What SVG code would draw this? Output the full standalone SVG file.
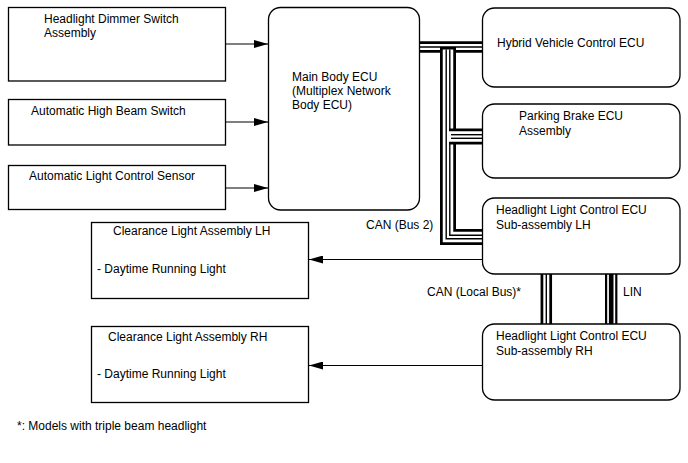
<svg xmlns="http://www.w3.org/2000/svg" width="688" height="463" viewBox="0 0 688 463">
<style>
text{font-family:"Liberation Sans",Arial,sans-serif;font-size:12px;fill:#000}
.box{fill:#fff;stroke:#000;stroke-width:1.3}
.arr{fill:none;stroke:#000;stroke-width:1.2;marker-end:url(#ah)}
.bk{fill:none;stroke:#000;stroke-width:11.5}
.wh{fill:none;stroke:#fff;stroke-width:6}
.ct{fill:none;stroke:#000;stroke-width:1.4}
.bk4{fill:none;stroke:#000;stroke-width:16}
.wh4{fill:none;stroke:#fff;stroke-width:10.5}
.lbk{fill:none;stroke:#000;stroke-width:12.4}
.lwh{fill:none;stroke:#fff;stroke-width:8}
.lct{fill:none;stroke:#000;stroke-width:4.6}
</style>
<defs>
<marker id="ah" markerWidth="14" markerHeight="8" refX="14" refY="4" orient="auto" markerUnits="userSpaceOnUse">
<path d="M0,0 L14,4 L0,8 Z" fill="#000"/>
</marker>
</defs>
<g id="connectors">
<path class="arr" d="M226,44 H268"/>
<path class="arr" d="M226,122 H268"/>
<path class="arr" d="M226,188 H268"/>
<path class="arr" d="M482,259.5 H309"/>
<path class="arr" d="M482,365.5 H309"/>
<!-- CAN bus 2: Main to Hybrid -->
<path class="bk" d="M420,47 H482"/>
<path class="wh" d="M420,47 H482"/>
<path class="ct" d="M420,47 H482"/>
<!-- trunk to LH -->
<path class="bk4" d="M448,47 V237 H482"/>
<path class="wh4" d="M448,49.5 V237 H482"/>
<path class="ct" d="M446.2,49.5 V238.8 H482"/>
<path class="ct" d="M449.8,49.5 V235.2 H482"/>
<!-- branch to Parking -->
<path class="bk4" d="M449,136.5 H482"/>
<path class="wh4" d="M449,136.5 H482"/>
<path class="ct" d="M451,134.7 H482"/>
<path class="ct" d="M451,138.3 H482"/>
<!-- CAN local bus -->
<path class="bk" d="M546.3,274 V324"/>
<path class="wh" d="M546.3,274 V324"/>
<path class="ct" d="M546.3,274 V324"/>
<!-- LIN -->
<path class="lbk" d="M611.2,274 V324"/>
<path class="lwh" d="M611.2,274 V324"/>
<path class="lct" d="M611.2,274 V324"/>
</g>
<g id="dimmer"><rect class="box" x="8.5" y="7.5" width="217" height="73.5"/><text x="44" y="23">Headlight Dimmer Switch</text><text x="44" y="37">Assembly</text></g>
<g id="highbeam"><rect class="box" x="8.5" y="99.5" width="217" height="45.5"/><text x="31" y="115">Automatic High Beam Switch</text></g>
<g id="sensor"><rect class="box" x="8.5" y="165.5" width="217" height="44"/><text x="29" y="180">Automatic Light Control Sensor</text></g>
<g id="mainbody"><rect class="box" x="268.5" y="7.5" width="151" height="202.5" rx="12"/><text x="292" y="81">Main Body ECU</text><text x="292" y="95">(Multiplex Network</text><text x="292" y="109">Body ECU)</text></g>
<g id="hybrid"><rect class="box" x="482.5" y="8" width="197.5" height="79" rx="12"/><text x="497" y="47">Hybrid Vehicle Control ECU</text></g>
<g id="parking"><rect class="box" x="482.5" y="104" width="197.5" height="74" rx="12"/><text x="519" y="120">Parking Brake ECU</text><text x="519" y="135">Assembly</text></g>
<g id="hlcLH"><rect class="box" x="482.5" y="198" width="197.5" height="76" rx="12"/><text x="496" y="214">Headlight Light Control ECU</text><text x="496" y="229">Sub-assembly LH</text></g>
<g id="hlcRH"><rect class="box" x="482.5" y="324" width="197.5" height="76" rx="12"/><text x="496" y="340">Headlight Light Control ECU</text><text x="496" y="355">Sub-assembly RH</text></g>
<g id="clearLH"><rect class="box" x="91.5" y="222.5" width="217" height="76"/><text x="113" y="235">Clearance Light Assembly LH</text><text x="97" y="273">- Daytime Running Light</text></g>
<g id="clearRH"><rect class="box" x="91.5" y="326.5" width="217" height="76"/><text x="108" y="341">Clearance Light Assembly RH</text><text x="97" y="378">- Daytime Running Light</text></g>
<g id="labels">
<text x="366" y="229">CAN (Bus 2)</text>
<text x="427" y="296">CAN (Local Bus)*</text>
<text x="623" y="296">LIN</text>
<text x="17" y="430">*: Models with triple beam headlight</text>
</g>
</svg>
